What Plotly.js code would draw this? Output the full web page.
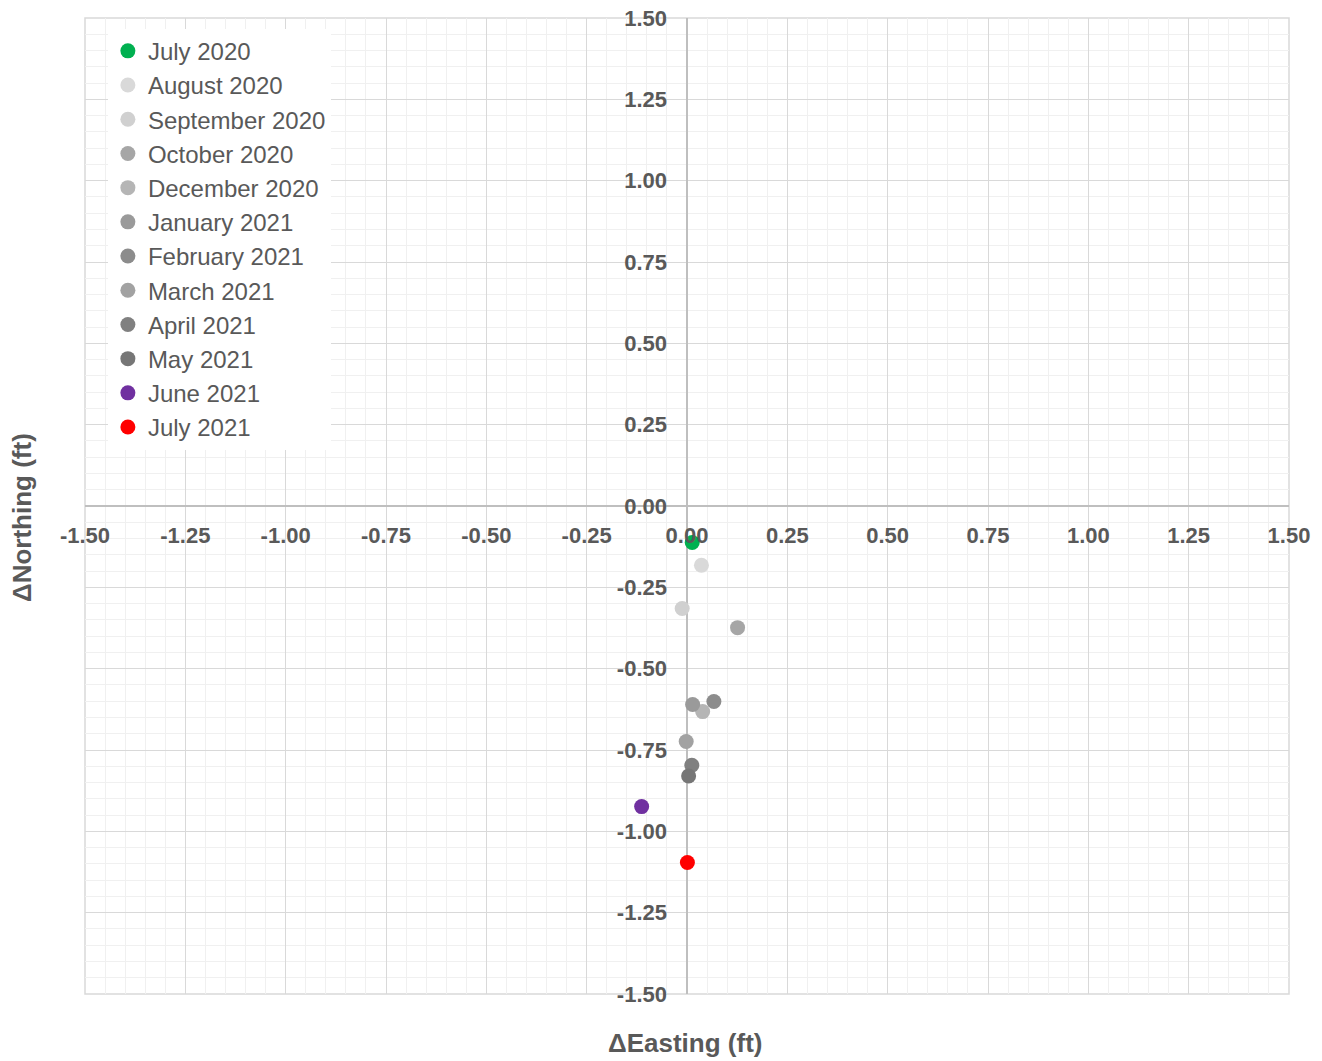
<!DOCTYPE html>
<html>
<head>
<meta charset="utf-8">
<script src="https://cdn.plot.ly/plotly-3.0.1.min.js"></script>
<style>html,body{margin:0;padding:0;background:#fff;}#chart{width:1322px;height:1061px;}</style>
</head>
<body>
<div id="chart"></div>
<script>
const months = ["July 2020","August 2020","September 2020","October 2020","December 2020","January 2021","February 2021","March 2021","April 2021","May 2021","June 2021","July 2021"];
const deltaEasting = [0.013, 0.036, -0.012, 0.126, 0.039, 0.014, 0.067, -0.002, 0.012, 0.004, -0.113, 0.001];
const deltaNorthing = [-0.112, -0.182, -0.315, -0.374, -0.632, -0.610, -0.601, -0.724, -0.797, -0.830, -0.924, -1.096];
const markerColors = ["#00b050","#d9d9d9","#d0d0d0","#a6a6a6","#b5b5b5","#9a9a9a","#8c8c8c","#a2a2a2","#808080","#767676","#7030a0","#ff0000"];
const tickValues = [-1.5, -1.25, -1.0, -0.75, -0.5, -0.25, 0, 0.25, 0.5, 0.75, 1.0, 1.25, 1.5];
const tickLabels = ["-1.50","-1.25","-1.00","-0.75","-0.50","-0.25","0.00","0.25","0.50","0.75","1.00","1.25","1.50"];

const FONT = "'Liberation Sans', Arial, sans-serif";
const TXT = "#595959";

const traces = months.map((m, i) => ({
  type: "scatter",
  mode: "markers",
  name: m,
  legendgroup: "g" + i,
  x: [deltaEasting[i]],
  y: [deltaNorthing[i]],
  marker: {color: markerColors[i], size: 15},
  hoverinfo: "x+y+name"
}));

const axisCommon = {
  range: [-1.5, 1.5],
  tickmode: "array",
  tickvals: tickValues,
  ticktext: tickLabels,
  showgrid: true,
  gridcolor: "#d9d9d9",
  gridwidth: 1.3,
  minor: {tickmode: "linear", tick0: 0, dtick: 0.05, showgrid: true, gridcolor: "#f0f0f0", gridwidth: 1},
  zeroline: true,
  zerolinecolor: "#bfbfbf",
  zerolinewidth: 1.6,
  showline: false,
  ticks: "",
  anchor: "free",
  position: 0.5,
  tickfont: {family: FONT, size: 22, color: TXT, weight: "bold"},
  fixedrange: true
};

const layout = {
  width: 1322,
  height: 1061,
  margin: {l: 85, r: 33, t: 18, b: 67},
  paper_bgcolor: "#ffffff",
  plot_bgcolor: "#ffffff",
  font: {family: FONT, color: TXT},
  xaxis: Object.assign({}, axisCommon, {domain: [0, 1], ticklabelstandoff: 14}),
  yaxis: Object.assign({}, axisCommon, {domain: [0, 1], side: "left", ticklabelstandoff: 20}),
  showlegend: true,
  legend: {
    x: 0.019, y: 0.989, xanchor: "left", yanchor: "top",
    bgcolor: "#ffffff",
    borderwidth: 0,
    traceorder: "grouped",
    tracegroupgap: 0,
    font: {family: FONT, size: 24, color: TXT}
  },
  shapes: [{
    type: "rect", xref: "paper", yref: "paper", x0: 0, x1: 1, y0: 0, y1: 1,
    line: {color: "#d9d9d9", width: 1.5}, layer: "below"
  }],
  annotations: [
    {text: "ΔEasting (ft)", xref: "paper", yref: "paper", x: 0.498, y: 0, yshift: -49,
     xanchor: "center", yanchor: "middle", showarrow: false,
     font: {family: FONT, size: 26, color: TXT, weight: "bold"}},
    {text: "ΔNorthing (ft)", xref: "paper", yref: "paper", x: 0, xshift: -63, y: 0.4877,
     xanchor: "center", yanchor: "middle", textangle: -90, showarrow: false,
     font: {family: FONT, size: 26, color: TXT, weight: "bold"}}
  ]
};

Plotly.newPlot("chart", traces, layout, {displayModeBar: false});
</script>
</body>
</html>
